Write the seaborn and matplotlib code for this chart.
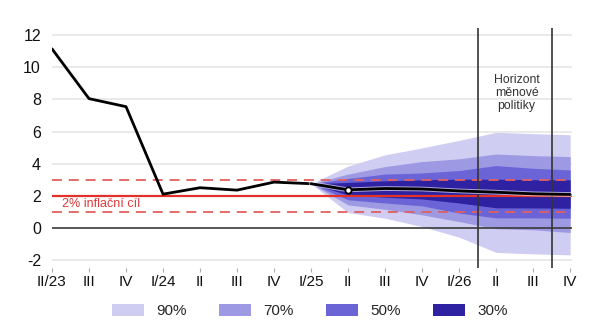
import matplotlib
matplotlib.use("Agg")
import matplotlib.pyplot as plt
import matplotlib.patheffects as pe
from matplotlib.patches import Patch
import seaborn as sns
import pandas as pd
import numpy as np

# ---- data ----
quarters = ["II/23", "III", "IV", "I/24", "II", "III", "IV", "I/25",
            "II", "III", "IV", "I/26", "II", "III", "IV"]
actual = [11.15, 8.05, 7.55, 2.1, 2.5, 2.35, 2.85, 2.75]
forecast = [2.75, 2.37, 2.45, 2.42, 2.3, 2.22, 2.12, 2.08]
band90_hi = [2.75, 3.85, 4.55, 4.98, 5.45, 5.95, 5.87, 5.8]
band90_lo = [2.75, 0.95, 0.6, 0.08, -0.58, -1.53, -1.62, -1.68]
band70_hi = [2.75, 3.35, 3.82, 4.13, 4.3, 4.6, 4.5, 4.44]
band70_lo = [2.75, 1.43, 1.16, 0.81, 0.39, -0.05, -0.12, -0.29]
band50_hi = [2.75, 3.08, 3.35, 3.42, 3.57, 3.88, 3.71, 3.61]
band50_lo = [2.75, 1.75, 1.55, 1.37, 0.92, 0.62, 0.62, 0.6]
band30_hi = [2.75, 2.83, 2.93, 2.99, 3.03, 3.03, 3.0, 2.99]
band30_lo = [2.75, 2.05, 1.91, 1.8, 1.55, 1.25, 1.24, 1.22]
band_labels = ["90%", "70%", "50%", "30%"]
band_colors = ["#cfcdf2", "#9d99e3", "#6b64d7", "#2e22a2"]
target = 2
tolerance = [1, 3]
horizon_lines = [11.5, 13.5]
yticks = [-2, 0, 2, 4, 6, 8, 10, 12]

# ---- style ----
sns.set_theme(style="white")
plt.rcParams["font.family"] = ["Liberation Sans", "DejaVu Sans"]

fig = plt.figure(figsize=(6.05, 3.31), dpi=100)
ax = fig.add_axes([52 / 605, 1 - 268 / 331, (572 - 52) / 605, (268 - 28) / 331])

x_all = np.arange(len(quarters))
n_act = len(actual)
x_act = x_all[:n_act]
x_fc = x_all[n_act - 1:]

# gridlines
for yv in yticks:
    if yv != 0:
        ax.axhline(yv, color="#e6e6e6", lw=1.2, zorder=0)

# fan
bands = [(band90_lo, band90_hi), (band70_lo, band70_hi),
         (band50_lo, band50_hi), (band30_lo, band30_hi)]
for (lo, hi), col in zip(bands, band_colors):
    ax.fill_between(x_fc, lo, hi, color=col, lw=0, zorder=1)

# zero line
ax.axhline(0, color="#3a3a3a", lw=1.2, zorder=2)

# target and tolerance band
ax.axhline(target, color="#e2302a", lw=1.6, zorder=3)
for t in tolerance:
    ax.axhline(t, color="#e06060", lw=1.3, ls=(0, (5.5, 3.8)), zorder=3)
ax.text(0.28, 1.5, "2% inflační cíl", color="#e03a3a", fontsize=9,
        ha="left", va="center", zorder=6)

# horizon lines
for hx in horizon_lines:
    ax.axvline(hx, color="#333333", lw=1.2, zorder=3)
ax.text(12.55, 8.4, "Horizont\nměnové\npolitiky", color="#333333",
        fontsize=8.8, ha="center", va="center", linespacing=1.12, zorder=6)

# actual line
df_act = pd.DataFrame({"x": x_act, "y": actual})
sns.lineplot(data=df_act, x="x", y="y", ax=ax, color="black", lw=2, zorder=4)

# forecast line
df_fc = pd.DataFrame({"x": x_fc, "y": forecast})
sns.lineplot(data=df_fc, x="x", y="y", ax=ax, color="black", lw=2, zorder=4,
             path_effects=[pe.Stroke(linewidth=3.4, foreground="white", alpha=0.6),
                           pe.Normal()])
ax.plot(x_fc[1], forecast[1], marker="o", ms=4.5, mfc="white", mec="black",
        mew=1.3, zorder=5)

# axes
ax.set_xlim(0, 14.05)
ax.set_ylim(-2.5, 12.45)
ax.set_xticks(x_all)
ax.set_xticklabels(quarters)
ax.set_yticks(yticks)
ax.set_yticklabels([str(v) for v in yticks])
ax.set_xlabel("")
ax.set_ylabel("")
for s in ax.spines.values():
    s.set_visible(False)
ax.tick_params(axis="x", length=3, width=0.8, color="#aaaaaa", pad=2,
               labelsize=11, labelcolor="#111111", bottom=True)
ax.tick_params(axis="y", length=0, pad=8, labelsize=11.5, labelcolor="#111111")

# legend
handles = [Patch(facecolor=c, edgecolor="none") for c in band_colors]
fig.legend(handles, band_labels, loc="center", bbox_to_anchor=(310 / 605, 1 - 311 / 331),
           ncol=4, frameon=False, fontsize=11, handlelength=2.1, handleheight=0.8,
           handletextpad=0.8, columnspacing=2.1)

fig.savefig("out.png", dpi=100)
